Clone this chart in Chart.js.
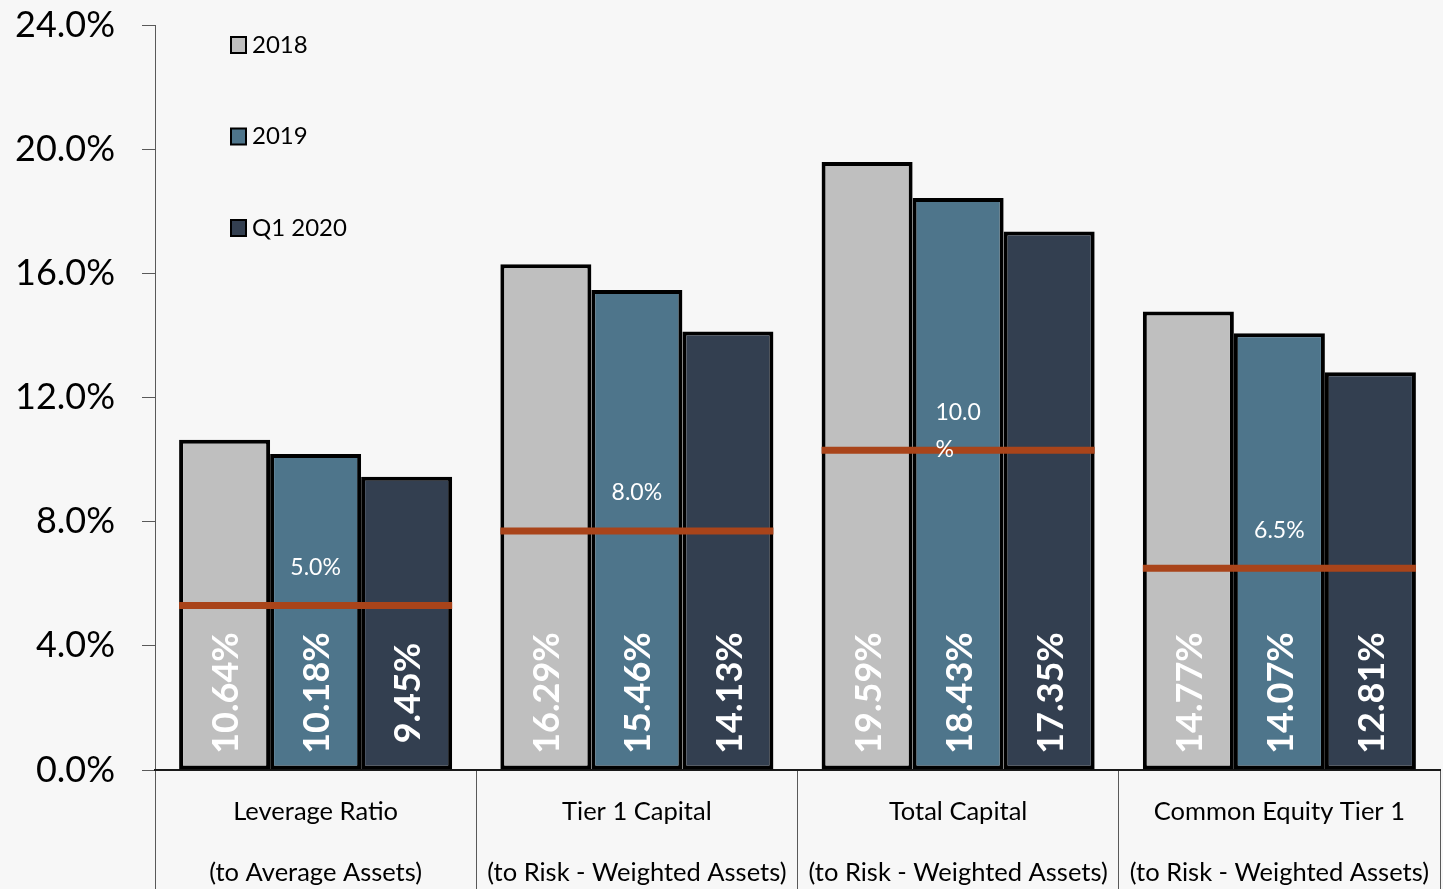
<!DOCTYPE html>
<html><head><meta charset="utf-8">
<script src="https://cdn.jsdelivr.net/npm/chart.js@4.4.1/dist/chart.umd.min.js"></script>
<style>html,body{margin:0;padding:0;background:#F7F7F7;overflow:hidden;} #wrap{width:1443px;height:889px;}</style>
</head><body><div id="wrap"><canvas id="c" width="1443" height="889"></canvas></div>
<script>
const categories = [
  ['Leverage Ratio', '(to Average Assets)'],
  ['Tier 1 Capital', '(to Risk - Weighted Assets)'],
  ['Total Capital', '(to Risk - Weighted Assets)'],
  ['Common Equity Tier 1', '(to Risk - Weighted Assets)']
];
const seriesLabels = ['2018', '2019', 'Q1 2020'];
const values2018 = [10.64, 16.29, 19.59, 14.77];
const values2019 = [10.18, 15.46, 18.43, 14.07];
const valuesQ12020 = [9.45, 14.13, 17.35, 12.81];
const thresholdValues = [5.3, 7.7, 10.3, 6.5];
const thresholdLabels = [['5.0%'], ['8.0%'], ['10.0', '%'], ['6.5%']];
const yTickValues = [0, 4, 8, 12, 16, 20, 24];

const seriesColors = ['#BFBFBF', '#4E758B', '#333F50'];
const FONT = 'Lato, "Open Sans", sans-serif';

const overlayPlugin = {
  id: 'overlay',
  afterDatasetsDraw(chart) {
    const ctx = chart.ctx;
    const y = chart.scales.y;
    const m0 = chart.getDatasetMeta(0), m2 = chart.getDatasetMeta(2);
    // value labels
    ctx.save();
    ctx.fillStyle = '#FFFFFF';
    ctx.font = 'bold 36px ' + FONT;
    ctx.textAlign = 'center';
    ctx.textBaseline = 'middle';
    chart.data.datasets.forEach((ds, di) => {
      const meta = chart.getDatasetMeta(di);
      meta.data.forEach((bar, i) => {
        ctx.save();
        ctx.translate(bar.x + 2, y.getPixelForValue(0) - 77);
        ctx.rotate(-Math.PI / 2);
        ctx.fillText(ds.data[i].toFixed(2) + '%', 0, 0);
        ctx.restore();
      });
    });
    ctx.restore();
    // threshold lines
    ctx.save();
    thresholdValues.forEach((v, i) => {
      const b0 = m0.data[i], b2 = m2.data[i];
      const left = b0.x - b0.width / 2, right = b2.x + b2.width / 2;
      const py = y.getPixelForValue(v);
      ctx.strokeStyle = '#A9441A';
      ctx.lineWidth = 7;
      ctx.beginPath();
      ctx.moveTo(left, py);
      ctx.lineTo(right, py);
      ctx.stroke();
      const cx = chart.scales.x.getPixelForValue(i);
      ctx.font = '23px ' + FONT;
      ctx.fillStyle = '#FFFFFF';
      ctx.textBaseline = 'middle';
      ctx.textAlign = 'left';
      const lines = thresholdLabels[i];
      const w = ctx.measureText(lines[0]).width;
      lines.forEach((t, li) => {
        ctx.fillText(t, cx - w / 2, py - 38 + li * 37);
      });
    });
    ctx.restore();
    // legend
    ctx.save();
    chart.data.datasets.forEach((ds, di) => {
      const cy = 45 + di * 91.5;
      ctx.fillStyle = ds.backgroundColor;
      ctx.fillRect(231, cy - 8, 15, 16);
      ctx.strokeStyle = '#000';
      ctx.lineWidth = 2;
      ctx.strokeRect(231, cy - 8, 15, 16);
      ctx.fillStyle = '#000';
      ctx.font = '24px ' + FONT;
      ctx.textAlign = 'left';
      ctx.textBaseline = 'middle';
      ctx.fillText(ds.label, 252, cy);
    });
    ctx.restore();
  }
};

new Chart(document.getElementById('c'), {
  type: 'bar',
  data: {
    labels: categories,
    datasets: [
      { label: seriesLabels[0], data: values2018, backgroundColor: seriesColors[0] },
      { label: seriesLabels[1], data: values2019, backgroundColor: seriesColors[1] },
      { label: seriesLabels[2], data: valuesQ12020, backgroundColor: seriesColors[2] }
    ].map(d => Object.assign(d, {
      borderColor: '#000000', borderWidth: 4, borderSkipped: false,
      barPercentage: 1.0, categoryPercentage: 0.85
    }))
  },
  options: {
    responsive: false,
    animation: false,
    devicePixelRatio: 1,
    layout: { padding: { top: 25, right: 3, left: 0, bottom: 0 } },
    plugins: { legend: { display: false }, tooltip: { enabled: false } },
    scales: {
      y: {
        min: 0, max: 24,
        afterBuildTicks: s => { s.ticks = yTickValues.map(v => ({ value: v })); },
        afterFit: s => { s.width = 155; s.paddingTop = 0; s.paddingBottom = 0; },
        ticks: {
          callback: v => Number(v).toFixed(1) + '%',
          font: { family: FONT, size: 36 },
          color: '#000000',
          padding: 27
        },
        grid: { drawOnChartArea: false, tickLength: 13, color: '#595959' },
        border: { color: '#595959', width: 1 }
      },
      x: {
        afterFit: s => { s.height = 119; s.paddingLeft = 0; s.paddingRight = 0; },
        ticks: {
          font: { family: FONT, size: 25.5, lineHeight: 2.39 },
          color: '#000000',
          padding: -107.5,
          autoSkip: false,
          maxRotation: 0
        },
        grid: { drawOnChartArea: false, offset: true, tickLength: 119, color: '#595959' },
        border: { color: '#1A1A1A', width: 2 }
      }
    }
  },
  plugins: [overlayPlugin]
});
</script>
</body></html>
